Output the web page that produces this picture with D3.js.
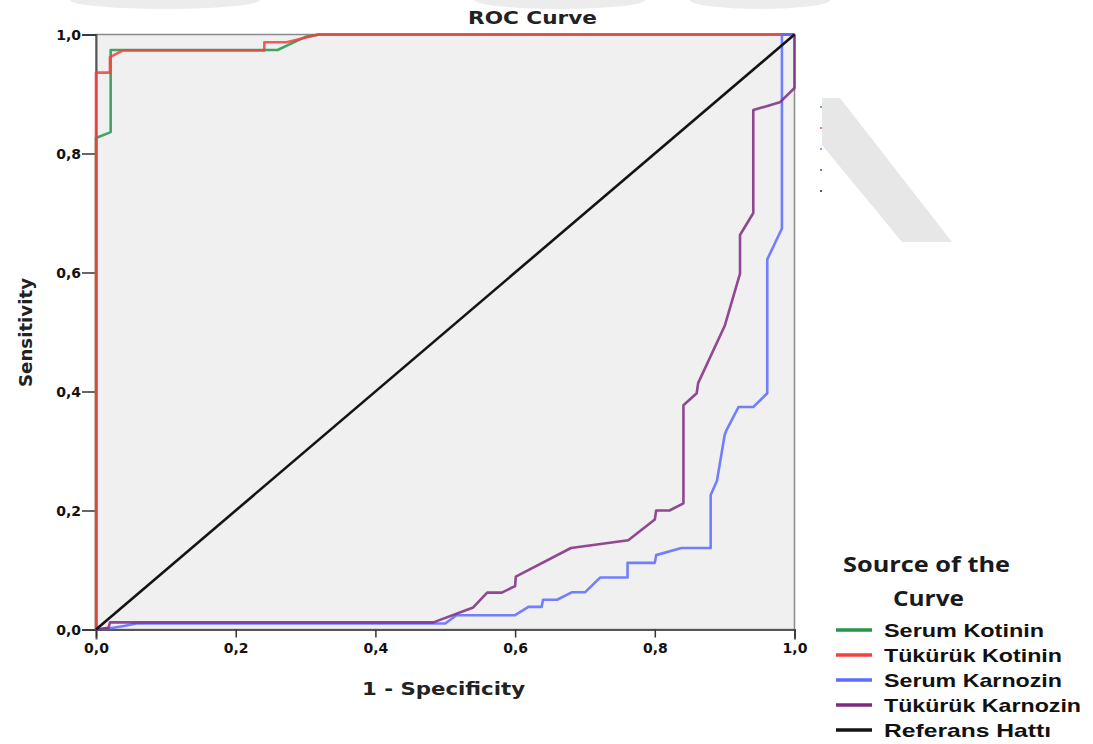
<!DOCTYPE html>
<html>
<head>
<meta charset="utf-8">
<script src="https://cdn.jsdelivr.net/npm/d3@7"></script>
<style>
  html, body { margin: 0; padding: 0; background: #ffffff; }
  svg { display: block; }
</style>
</head>
<body>
<script>
// ---- data ----
const tickValues = [0, 0.2, 0.4, 0.6, 0.8, 1.0];
const tickLabels = ["0,0", "0,2", "0,4", "0,6", "0,8", "1,0"];

const seriesNames = ["Serum Kotinin", "Tükürük Kotinin", "Serum Karnozin", "Tükürük Karnozin", "Referans Hattı"];
const seriesColors = ["#23974a", "#f2413f", "#5b6bff", "#7e2a80", "#141414"];

const serumKotininX = [0, 0, 0.021, 0.021, 0.034, 0.26, 0.28, 0.30, 0.32, 1.0];
const serumKotininY = [0, 0.826, 0.836, 0.974, 0.974, 0.974, 0.985, 0.996, 1.0, 1.0];

const tukurukKotininX = [0, 0, 0.02, 0.02, 0.038, 0.241, 0.241, 0.273, 0.318, 1.0];
const tukurukKotininY = [0, 0.936, 0.936, 0.962, 0.973, 0.973, 0.987, 0.987, 1.0, 1.0];

const serumKarnozinX = [0, 0.02, 0.04, 0.058, 0.50, 0.516, 0.60, 0.619, 0.638, 0.64, 0.66, 0.681, 0.70, 0.722, 0.761, 0.761, 0.80, 0.802, 0.838, 0.88, 0.88, 0.889, 0.90, 0.903, 0.92, 0.941, 0.961, 0.961, 0.982, 0.982, 1.0];
const serumKarnozinY = [0, 0.002, 0.006, 0.01, 0.01, 0.024, 0.024, 0.038, 0.038, 0.05, 0.05, 0.0625, 0.0625, 0.0875, 0.0875, 0.112, 0.112, 0.125, 0.137, 0.137, 0.226, 0.25, 0.327, 0.336, 0.374, 0.374, 0.397, 0.622, 0.674, 1.0, 1.0];

const tukurukKarnozinX = [0, 0.018, 0.02, 0.483, 0.54, 0.56, 0.581, 0.60, 0.601, 0.68, 0.762, 0.80, 0.802, 0.821, 0.841, 0.841, 0.86, 0.862, 0.90, 0.922, 0.922, 0.941, 0.941, 0.979, 1.0, 1.0];
const tukurukKarnozinY = [0, 0.003, 0.012, 0.012, 0.037, 0.062, 0.062, 0.073, 0.089, 0.137, 0.150, 0.185, 0.200, 0.200, 0.212, 0.377, 0.397, 0.414, 0.510, 0.598, 0.663, 0.700, 0.873, 0.886, 0.910, 1.0];

const referansX = [0, 1];
const referansY = [0, 1];

const seriesX = [serumKotininX, tukurukKotininX, serumKarnozinX, tukurukKarnozinX, referansX];
const seriesY = [serumKotininY, tukurukKotininY, serumKarnozinY, tukurukKarnozinY, referansY];

// ---- layout ----
const W = 1093, H = 744;
const plot = { left: 96, right: 794.5, top: 34.5, bottom: 629.5 };

const svg = d3.select("body").append("svg").attr("width", W).attr("height", H);

// watermark fragments
const wm = svg.append("g").attr("fill", "#ececec");
wm.append("ellipse").attr("cx", 165).attr("cy", 0).attr("rx", 95).attr("ry", 9);
wm.append("ellipse").attr("cx", 560).attr("cy", 0).attr("rx", 85).attr("ry", 9);
wm.append("ellipse").attr("cx", 760).attr("cy", 0).attr("rx", 70).attr("ry", 9);
svg.append("polygon")
  .attr("points", "822,98 840,98 952,242 902,242 822,145")
  .attr("fill", "#e7e7e7");

const x = d3.scaleLinear().domain([0, 1]).range([plot.left, plot.right]);
const y = d3.scaleLinear().domain([0, 1]).range([plot.bottom, plot.top]);

// plot background
svg.append("rect")
  .attr("x", x(0)).attr("y", y(1))
  .attr("width", x(1) - x(0)).attr("height", y(0) - y(1))
  .attr("fill", "#f0f0f0")
  .attr("stroke", "#8a8a8a").attr("stroke-width", 1.5);

// axes
const fmt = (d) => tickLabels[tickValues.indexOf(d)];
const xAxis = svg.append("g")
  .attr("transform", `translate(0,${y(0)})`)
  .call(d3.axisBottom(x).tickValues(tickValues).tickFormat(fmt).tickSize(10).tickPadding(4));
const yAxis = svg.append("g")
  .attr("transform", `translate(${x(0)},0)`)
  .call(d3.axisLeft(y).tickValues(tickValues).tickFormat(fmt).tickSize(14).tickPadding(1));

[xAxis, yAxis].forEach(g => {
  g.select(".domain").attr("stroke", "#555").attr("stroke-width", 2);
  g.selectAll(".tick line").attr("stroke", "#333").attr("stroke-width", 1.5);
  g.selectAll(".tick text")
    .attr("fill", "#111")
    .style("font-family", "DejaVu Sans, sans-serif")
    .style("font-weight", "bold")
    .style("font-size", "14px");
});
xAxis.selectAll(".tick line").attr("y2", 8);
yAxis.selectAll(".tick text").attr("dy", "0.36em");

// curves
const line = d3.line().x(d => x(d[0])).y(d => y(d[1]));
const curves = svg.append("g").attr("fill", "none");
seriesNames.forEach((name, i) => {
  const pts = seriesX[i].map((v, j) => [v, seriesY[i][j]]);
  curves.append("path")
    .datum(pts)
    .attr("d", line)
    .attr("stroke", seriesColors[i])
    .attr("stroke-width", 2.6)
    .attr("stroke-opacity", i === 4 ? 1 : 0.85)
    .attr("stroke-linejoin", "round");
});

// titles
svg.append("text")
  .attr("x", 468).attr("y", 24)
  .attr("textLength", 129).attr("lengthAdjust", "spacingAndGlyphs")
  .style("font-family", "DejaVu Sans, sans-serif").style("font-weight", "bold").style("font-size", "18px")
  .attr("fill", "#222")
  .text("ROC Curve");

svg.append("text")
  .attr("x", 362).attr("y", 695)
  .attr("textLength", 163).attr("lengthAdjust", "spacingAndGlyphs")
  .style("font-family", "DejaVu Sans, sans-serif").style("font-weight", "bold").style("font-size", "18px")
  .attr("fill", "#222")
  .text("1 - Specificity");

svg.append("text")
  .attr("transform", "translate(32,387) rotate(-90)")
  .attr("x", 0).attr("y", 0)
  .attr("textLength", 109).attr("lengthAdjust", "spacingAndGlyphs")
  .style("font-family", "DejaVu Sans, sans-serif").style("font-weight", "bold").style("font-size", "17px")
  .attr("fill", "#222")
  .text("Sensitivity");

// legend
const leg = svg.append("g");
leg.append("text")
  .attr("x", 843).attr("y", 572)
  .attr("textLength", 167).attr("lengthAdjust", "spacingAndGlyphs")
  .style("font-family", "Open Sans, sans-serif").style("font-weight", "bold").style("font-size", "21px")
  .attr("fill", "#1a1a1a")
  .text("Source of the");
leg.append("text")
  .attr("x", 893).attr("y", 606)
  .attr("textLength", 71).attr("lengthAdjust", "spacingAndGlyphs")
  .style("font-family", "Open Sans, sans-serif").style("font-weight", "bold").style("font-size", "21px")
  .attr("fill", "#1a1a1a")
  .text("Curve");

const legendWidths = [160, 178, 178, 197, 167];
seriesNames.forEach((name, i) => {
  const cy = 630 + i * 25;
  leg.append("line")
    .attr("x1", 836).attr("x2", 872).attr("y1", cy).attr("y2", cy)
    .attr("stroke", seriesColors[i]).attr("stroke-width", 3.5);
  leg.append("text")
    .attr("x", 884).attr("y", cy + 6.5)
    .attr("textLength", legendWidths[i]).attr("lengthAdjust", "spacingAndGlyphs")
    .style("font-family", "Liberation Sans, Arial, sans-serif").style("font-weight", "bold").style("font-size", "18.5px")
    .attr("fill", "#111")
    .text(name);
  leg.append("rect")
    .attr("x", 820).attr("y", 106 + i * 21)
    .attr("width", 2).attr("height", 2)
    .attr("fill", seriesColors[i]).attr("opacity", 0.7);
});
</script>
</body>
</html>
